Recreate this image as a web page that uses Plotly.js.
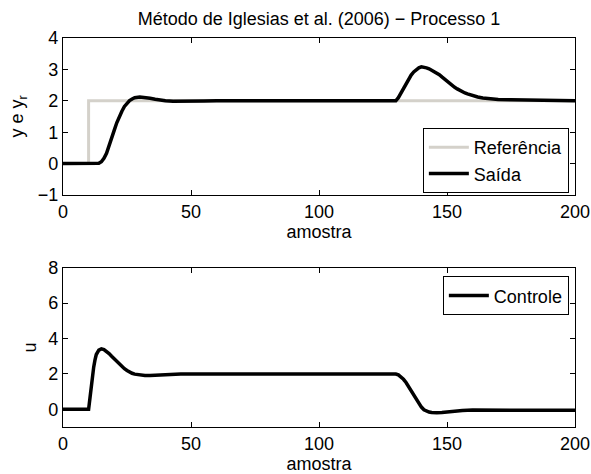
<!DOCTYPE html>
<html>
<head>
<meta charset="utf-8">
<script src="https://cdn.plot.ly/plotly-3.0.1.min.js"></script>
<style>html,body{margin:0;padding:0;background:#fff;}#chart{width:591px;height:474px;}</style>
</head>
<body>
<div id="chart"></div>
<script>
// Reference signal (Referência)
const refX = [0, 10, 10, 200];
const refY = [0, 0, 2, 2];

// Output (Saída)
const outX = [0, 13, 14, 15, 16, 17, 18, 19, 20, 21, 22, 23, 24, 25, 26, 27, 28, 30, 32, 34, 36, 38, 40, 43, 46, 50, 55, 60, 80, 100, 130, 131, 132, 133, 134, 135, 136, 137, 138, 139, 140, 141, 142, 143, 144, 145, 146, 147, 148, 149, 150, 151, 152, 153, 154, 155, 156, 157, 158, 160, 162, 164, 167, 170, 175, 180, 190, 200];
const outY = [0, 0, 0.01, 0.06, 0.17, 0.33, 0.55, 0.8, 1.06, 1.3, 1.5, 1.67, 1.82, 1.93, 2.01, 2.06, 2.1, 2.12, 2.11, 2.08, 2.05, 2.02, 2.0, 1.985, 1.98, 1.985, 1.99, 2.0, 2.0, 2.0, 2.0, 2.1, 2.25, 2.4, 2.55, 2.7, 2.82, 2.92, 3.0, 3.05, 3.08, 3.07, 3.05, 3.02, 2.98, 2.94, 2.89, 2.83, 2.76, 2.69, 2.62, 2.55, 2.49, 2.43, 2.38, 2.33, 2.29, 2.25, 2.22, 2.16, 2.12, 2.09, 2.06, 2.045, 2.03, 2.02, 2.01, 2.0];

// Control (Controle)
const ctlX = [0, 10, 10.5, 11, 11.5, 12, 12.5, 13, 14, 15, 16, 17, 18, 19, 20, 21, 22, 23, 24, 25, 26, 27, 28, 30, 32, 34, 36, 38, 42, 46, 50, 60, 70, 80, 100, 130, 131, 132, 133, 134, 135, 136, 137, 138, 139, 140, 141, 142, 143, 144, 145, 146, 148, 150, 153, 156, 160, 170, 180, 200];
const ctlY = [0, 0, 0.6, 1.3, 1.9, 2.4, 2.8, 3.1, 3.35, 3.42, 3.38, 3.28, 3.15, 3.0, 2.85, 2.7, 2.55, 2.42, 2.3, 2.2, 2.11, 2.04, 1.99, 1.93, 1.91, 1.92, 1.94, 1.96, 1.98, 2.0, 2.0, 2.0, 2.01, 2.0, 2.0, 2.0, 1.95, 1.85, 1.7, 1.52, 1.3, 1.05, 0.8, 0.56, 0.33, 0.13, -0.02, -0.1, -0.15, -0.18, -0.19, -0.19, -0.17, -0.14, -0.09, -0.06, -0.04, -0.04, -0.05, -0.05];

const xTicks = [0, 50, 100, 150, 200];
const yTicksTop = [-1, 0, 1, 2, 3, 4];
const yTicksBot = [0, 2, 4, 6, 8];

const FONT = 'Liberation Sans, Arial, sans-serif';
const FS = 18;

const traces = [
  {x: refX, y: refY, mode: 'lines', name: 'Referência', line: {color: '#d4d1ca', width: 3}, xaxis: 'x', yaxis: 'y', legend: 'legend'},
  {x: outX, y: outY, mode: 'lines', name: 'Saída', line: {color: '#000', width: 3.5}, xaxis: 'x', yaxis: 'y', legend: 'legend'},
  {x: ctlX, y: ctlY, mode: 'lines', name: 'Controle', line: {color: '#000', width: 3.5}, xaxis: 'x2', yaxis: 'y2', legend: 'legend2'}
];

const axCommon = {
  showline: true, linecolor: '#000', linewidth: 1.2, mirror: 'ticks',
  ticks: 'inside', ticklen: 5, tickcolor: '#000', tickwidth: 1,
  showgrid: false, zeroline: false,
  tickfont: {family: FONT, size: FS, color: '#000'}
};
const tf = {family: FONT, size: FS, color: '#000'};

const layout = {
  width: 591, height: 474,
  paper_bgcolor: '#fff', plot_bgcolor: '#fff',
  margin: {l: 63, r: 16, t: 38, b: 42},
  showlegend: true,
  title: {text: 'Método de Iglesias et al. (2006) − Processo 1', font: tf, x: 0.5, xref: 'paper', xanchor: 'center', y: 15, yref: 'container', yanchor: 'middle'},
  xaxis: Object.assign({}, axCommon, {domain: [0, 1], range: [0, 200], tickvals: xTicks, anchor: 'y',
    title: {text: 'amostra', font: tf, standoff: 2}}),
  yaxis: Object.assign({}, axCommon, {domain: [0.6015, 1], range: [-1, 4], tickvals: yTicksTop, anchor: 'x',
    title: {text: 'y e y<sub>r</sub>', font: tf, standoff: 9}}),
  xaxis2: Object.assign({}, axCommon, {domain: [0, 1], range: [0, 200], tickvals: xTicks, anchor: 'y2',
    title: {text: 'amostra', font: tf, standoff: 4}}),
  yaxis2: Object.assign({}, axCommon, {domain: [0.0125, 0.4168], range: [-1, 8], tickvals: yTicksBot, anchor: 'x2',
    title: {text: 'u', font: tf, standoff: 6}}),
  legend: {x: 0.988, y: 0.7716, xanchor: 'right', yanchor: 'top', bgcolor: '#fff', bordercolor: '#000', borderwidth: 1,
    font: tf, tracegroupgap: 0, itemwidth: 40},
  legend2: {x: 0.988, y: 0.395, xanchor: 'right', yanchor: 'top', bgcolor: '#fff', bordercolor: '#000', borderwidth: 1,
    font: tf, itemwidth: 40}
};

Plotly.newPlot('chart', traces, layout, {displayModeBar: false, staticPlot: true});
</script>
</body>
</html>
